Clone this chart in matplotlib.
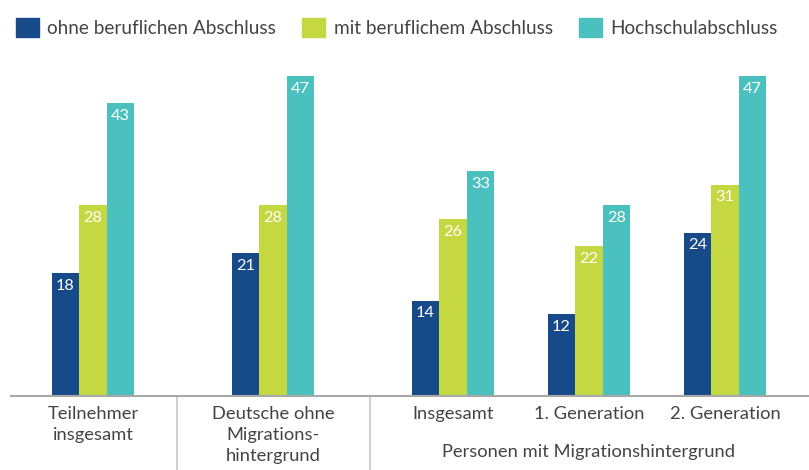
import matplotlib.pyplot as plt
import numpy as np
from matplotlib.patches import Patch

plt.rcParams["font.family"] = ["Lato", "DejaVu Sans"]

SERIES = ["ohne beruflichen Abschluss", "mit beruflichem Abschluss", "Hochschulabschluss"]
GROUPS = ["Teilnehmer\ninsgesamt", "Deutsche ohne\nMigrations-\nhintergrund",
          "Insgesamt", "1. Generation", "2. Generation"]
ohne = [18, 21, 14, 12, 24]
mit = [28, 28, 26, 22, 31]
hoch = [43, 47, 33, 28, 47]
SUPER_LABEL = "Personen mit Migrationshintergrund"

COLORS = ["#174a89", "#c5d842", "#4ac1bf"]
TEXT = "#444444"

# layout (pixel units along x)
group_x = np.array([93, 273, 453, 589, 725])
separators = [177.5, 370]
width = 27.5

W, H = 809, 470
fig = plt.figure(figsize=(W / 100, H / 100), dpi=100)
base_y, top_y = 396, 76
ax = fig.add_axes([11 / W, (H - base_y) / H, (808 - 11) / W, (base_y - top_y) / H])
ax.set_xlim(11, 808)
ax.set_ylim(0, 47)
for s in ["top", "right", "left"]:
    ax.spines[s].set_visible(False)
ax.spines["bottom"].set_color("#a8a8a8")
ax.spines["bottom"].set_linewidth(1.5)
ax.set_xticks([])
ax.set_yticks([])

for i, (vals, col) in enumerate(zip([ohne, mit, hoch], COLORS)):
    xs = group_x + (i - 1) * width
    ax.bar(xs, vals, width, color=col, label=SERIES[i])
    for x, v in zip(xs, vals):
        ax.annotate(str(v), (x, v), xytext=(0, -4), textcoords="offset points",
                    ha="center", va="top", color="white", fontsize=11.8)

for gx, lab in zip(group_x, GROUPS):
    ax.annotate(lab, (gx, 0), xytext=(0, -7.5), textcoords="offset points",
                ha="center", va="top", color=TEXT, fontsize=13.2, linespacing=1.38,
                annotation_clip=False)

ax.annotate(SUPER_LABEL, (group_x[3], 0), xytext=(0, -34.5), textcoords="offset points",
            ha="center", va="top", color=TEXT, fontsize=13.2, annotation_clip=False)

for sx in separators:
    ax.plot([sx, sx], [0, -(H - base_y) / (base_y - top_y) * 47], color="#c8c8c8",
            linewidth=1.2, clip_on=False)

handles = [Patch(color=c) for c in COLORS]
fig.legend(handles, SERIES, loc="upper left", bbox_to_anchor=(6 / W, 1 - 8 / H),
           ncol=3, frameon=False, fontsize=13.7, handlelength=1.22, handleheight=1.22,
           handletextpad=0.45, columnspacing=1.36, labelcolor=TEXT, borderpad=0)

fig.savefig("out.png", dpi=100)
